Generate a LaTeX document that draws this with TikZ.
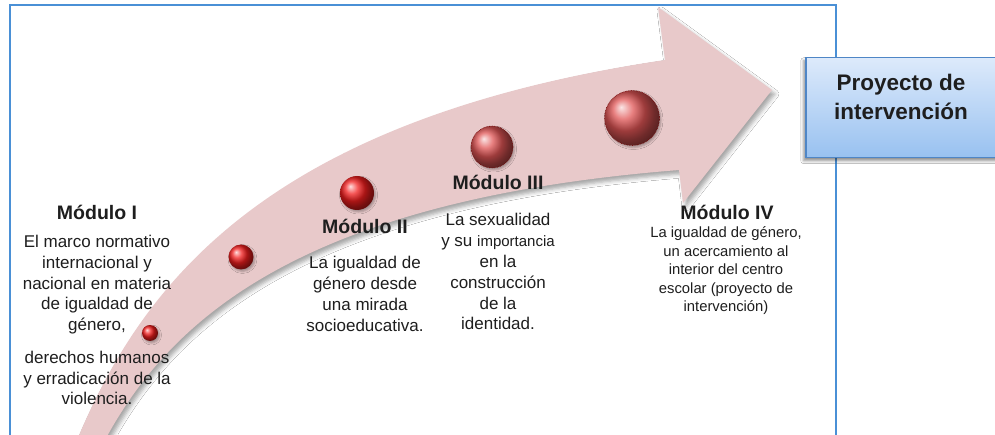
\documentclass[tikz,border=0pt]{standalone}
\usepackage{fontspec}
\setmainfont{Liberation Sans}
\usetikzlibrary{shadows.blur}
\definecolor{framecol}{HTML}{4A90D6}
\definecolor{bandcol}{HTML}{E8C9CA}
\definecolor{boxtop}{HTML}{DDEAFB}
\definecolor{boxbot}{HTML}{98C1F0}
\definecolor{boxline}{HTML}{4F86C6}
\definecolor{ballred}{HTML}{F21E1E}
\definecolor{balldull}{HTML}{E05555}
\definecolor{txt}{HTML}{1E1E1E}
\tikzset{
  modhead/.style={font=\fontsize{19.5}{23}\selectfont\bfseries, text=txt, anchor=base, inner sep=0pt},
  modbody/.style={font=\fontsize{17}{20.8}\selectfont, text=txt, anchor=base, align=center, inner sep=0pt},
  smallbody/.style={font=\fontsize{14.8}{18.5}\selectfont, text=txt, anchor=base, align=center, inner sep=0pt},
  redball/.style={circle, inner sep=0pt, shading=ball, ball color=ballred,
     blur shadow={shadow xshift=1.5pt, shadow yshift=-2pt, shadow blur radius=2pt, shadow opacity=30}},
  dullball/.style={circle, inner sep=0pt, shading=ball, ball color=balldull, draw=black!55!red, densely dotted, line width=0.6pt,
     blur shadow={shadow xshift=1.5pt, shadow yshift=-2pt, shadow blur radius=2pt, shadow opacity=30}},
  projbox/.style={draw=boxline, line width=1.5pt, top color=boxtop, bottom color=boxbot, minimum width=200pt, minimum height=100pt, inner sep=0pt,
     blur shadow={shadow xshift=-2pt, shadow yshift=-3pt, shadow blur radius=3pt, shadow opacity=45}},
  projtext/.style={font=\fontsize{22.5}{29}\selectfont\bfseries, text=txt, anchor=base, align=center, inner sep=0pt},
}
\begin{document}
\begin{tikzpicture}[x=1pt, y=-1pt]
\useasboundingbox (0,0) rectangle (995,435);
\clip (0,0) rectangle (995,435);
\fill[white] (0,0) rectangle (995,435);
% frame
\draw[framecol, line width=2pt] (9.5,445) -- (9.5,5) -- (836,5) -- (836,445);
% curved arrow band
\fill[bandcol, blur shadow={shadow xshift=3pt, shadow yshift=-4pt, shadow blur radius=4pt, shadow opacity=35}]
  (77,440) .. controls (140,290) and (260,120) .. (665,60)
  -- (658,7) -- (772,90) -- (683,203) -- (679,170)
  .. controls (300,200) and (170,320) .. (105,440) -- cycle;
% balls
\node[redball, minimum size=16pt] (b1) at (150,333) {};
\node[redball, minimum size=25pt] (b2) at (241,257) {};
\node[redball, minimum size=34pt] (b3) at (357,193) {};
\node[dullball, minimum size=42pt] (b4) at (492,147) {};
\node[dullball, minimum size=55pt] (b5) at (632,118) {};
% Modulo I
\node[modhead] (h1) at (97,220) {Módulo I};
\node[modbody] (t1a) at (97,330.7) {El marco normativo\\internacional y\\nacional en materia\\de igualdad de\\género,};
\node[modbody] (t1b) at (97,404.8) {derechos humanos\\y erradicación de la\\violencia.};
% Modulo II
\node[modhead] (h2) at (365,234) {Módulo II};
\node[modbody] (t2) at (365,331.2) {La igualdad de\\género desde\\una mirada\\socioeducativa.};
% Modulo III
\node[modhead] (h3) at (498,190) {Módulo III};
\node[modbody] (t3) at (498,330) {La sexualidad\\y su {\fontsize{15}{20.8}\selectfont importancia}\\en la\\construcción\\de la\\identidad.};
% Modulo IV
\node[modhead] (h4) at (727,220) {Módulo IV};
\node[smallbody] (t4) at (726,312) {La igualdad de género,\\un acercamiento al\\interior del centro\\escolar (proyecto de\\intervención)};
% project box
\node[projbox, anchor=north west] (proj) at (805,57) {};
\node[projtext] (projt) at (901,119.5) {Proyecto de\\intervención};
\end{tikzpicture}
\end{document}
